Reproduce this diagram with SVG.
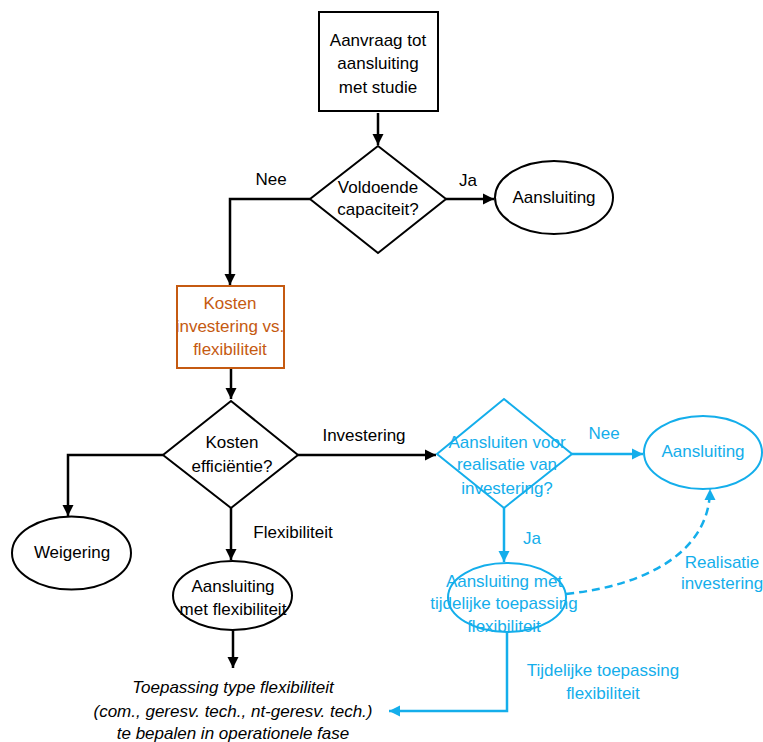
<svg xmlns="http://www.w3.org/2000/svg" width="763" height="742" viewBox="0 0 763 742">
<defs>
<style>
text{font-family:"Liberation Sans",Arial,sans-serif;font-size:17px;text-anchor:middle;dominant-baseline:central}
.k{fill:#000}
.b{fill:#14AEEB}
.o{fill:#C55A11}
.ns{fill:#fff;stroke:#000;stroke-width:2}
.nb{fill:#fff;stroke:#14AEEB;stroke-width:2}
.no{fill:#fff;stroke:#C55A11;stroke-width:2}
.ck{fill:none;stroke:#000;stroke-width:2.5}
.cb{fill:none;stroke:#14AEEB;stroke-width:2.5}
.it{font-style:italic}
</style>
<marker id="ak" viewBox="0 0 10 10" refX="10" refY="5" markerWidth="4.5" markerHeight="4.5" orient="auto" markerUnits="strokeWidth"><path d="M0,0 L10,5 L0,10 z" fill="#000"/></marker>
<marker id="ab" viewBox="0 0 10 10" refX="10" refY="5" markerWidth="4.5" markerHeight="4.5" orient="auto" markerUnits="strokeWidth"><path d="M0,0 L10,5 L0,10 z" fill="#14AEEB"/></marker>
</defs>
<rect width="763" height="742" fill="#fff"/>
<g id="connectors">
<path class="ck" d="M378,113 V145" marker-end="url(#ak)"/>
<path class="ck" d="M446,199 H494" marker-end="url(#ak)"/>
<path class="ck" d="M310,199 H230 V285" marker-end="url(#ak)"/>
<path class="ck" d="M231,369 V399" marker-end="url(#ak)"/>
<path class="ck" d="M163,455 H68 V516" marker-end="url(#ak)"/>
<path class="ck" d="M231,508 V560" marker-end="url(#ak)"/>
<path class="ck" d="M233,630 V668" marker-end="url(#ak)"/>
<path class="ck" d="M298,455 H436" marker-end="url(#ak)"/>
<path class="cb" d="M572,454 H643" marker-end="url(#ab)"/>
<path class="cb" d="M504,508 V562" marker-end="url(#ab)"/>
<path class="cb" d="M507,632 V711 H389" marker-end="url(#ab)"/>
<path class="cb" d="M566,594 C650,585 710,550 710,489" stroke-dasharray="8,5" marker-end="url(#ab)"/>
<text class="k" x="271" y="179">Nee</text>
<text class="k" x="468" y="180">Ja</text>
<text class="k" x="364" y="435">Investering</text>
<text class="k" x="293" y="532">Flexibiliteit</text>
<text class="b" x="604" y="433">Nee</text>
<text class="b" x="532" y="538">Ja</text>
<text class="b" x="722" y="562">Realisatie</text>
<text class="b" x="722" y="583">investering</text>
<text class="b" x="603" y="670">Tijdelijke toepassing</text>
<text class="b" x="603" y="693">flexibiliteit</text>
</g>
<g id="start">
<rect class="ns" x="319" y="12" width="119" height="99"/>
<text class="k" x="378" y="40">Aanvraag tot</text>
<text class="k" x="378" y="63">aansluiting</text>
<text class="k" x="378" y="87">met studie</text>
</g>
<g id="capaciteit">
<polygon class="ns" points="378,146 446,199 378,253 310,199"/>
<text class="k" x="378" y="187">Voldoende</text>
<text class="k" x="378" y="209">capaciteit?</text>
</g>
<g id="aansluiting1">
<ellipse class="ns" cx="554" cy="197.5" rx="59" ry="36.5"/>
<text class="k" x="554" y="197">Aansluiting</text>
</g>
<g id="kosten">
<rect class="no" x="177" y="286" width="107" height="82"/>
<text class="o" x="230" y="303">Kosten</text>
<text class="o" x="230" y="326">investering vs.</text>
<text class="o" x="230" y="349">flexibiliteit</text>
</g>
<g id="efficientie">
<polygon class="ns" points="231,401 298,455 231,508 163,455"/>
<text class="k" x="232" y="442">Kosten</text>
<text class="k" x="232" y="466">efficiëntie?</text>
</g>
<g id="weigering">
<ellipse class="ns" cx="71.5" cy="553" rx="59.5" ry="36.5"/>
<text class="k" x="72" y="552">Weigering</text>
</g>
<g id="aansluiting-flex">
<ellipse class="ns" cx="232.5" cy="595.5" rx="59.5" ry="34.5"/>
<text class="k" x="233" y="586">Aansluiting</text>
<text class="k" x="233" y="609">met flexibiliteit</text>
</g>
<g id="toepassing">
<text class="k it" x="233" y="687">Toepassing type flexibiliteit</text>
<text class="k it" x="233" y="711">(com., geresv. tech., nt-geresv. tech.)</text>
<text class="k it" x="233" y="733">te bepalen in operationele fase</text>
</g>
<g id="aansluiten-voor">
<polygon class="nb" points="504,399 572,454 504,508 437,454"/>
<text class="b" x="507" y="442">Aansluiten voor</text>
<text class="b" x="507" y="464">realisatie van</text>
<text class="b" x="507" y="488">investering?</text>
</g>
<g id="aansluiting2">
<ellipse class="nb" cx="703" cy="452.5" rx="59" ry="36.5"/>
<text class="b" x="703" y="451">Aansluiting</text>
</g>
<g id="aansluiting-tijdelijk">
<ellipse class="nb" cx="507" cy="597.5" rx="59" ry="34.5"/>
<text class="b" x="504" y="581">Aansluiting met</text>
<text class="b" x="504" y="603">tijdelijke toepassing</text>
<text class="b" x="504" y="626">flexibiliteit</text>
</g>
</svg>
